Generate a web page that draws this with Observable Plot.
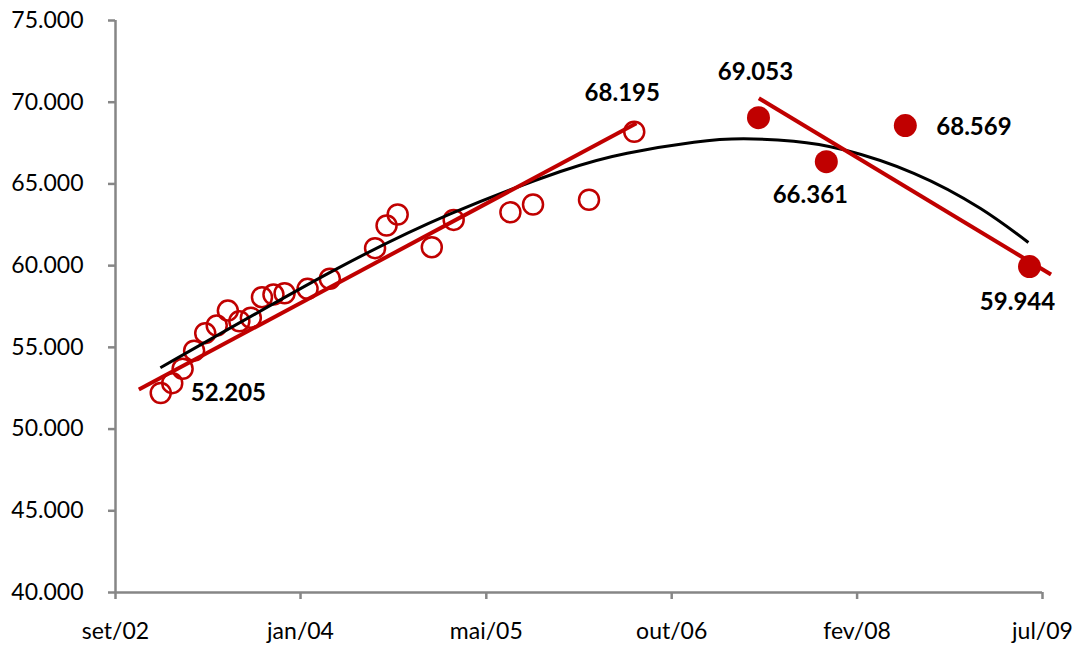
<!DOCTYPE html>
<html>
<head>
<meta charset="utf-8">
<script src="https://cdn.jsdelivr.net/npm/d3@7"></script>
<script src="https://cdn.jsdelivr.net/npm/@observablehq/plot@0.6"></script>
<style>
  html, body { margin: 0; padding: 0; background: #fff; }
  #chart { width: 1078px; height: 648px; }
</style>
</head>
<body>
<div id="chart"></div>
<script>
// ---- data ----
const openMonths = ["2003-01","2003-02","2003-03","2003-04","2003-05","2003-06","2003-07","2003-08","2003-09","2003-10","2003-11","2003-12","2004-02","2004-04","2004-08","2004-09","2004-10","2005-01","2005-03","2005-08","2005-10","2006-03","2006-07"];
const openValues = [52205,52810,53690,54800,55870,56340,57250,56600,56810,58070,58230,58310,58580,59200,61070,62460,63130,61130,62800,63270,63740,64030,68195];

const filledMonths = ["2007-06","2007-12","2008-07","2009-06"];
const filledValues = [69053,66361,68569,59944];

// red linear trend lines (end points)
const trend1Dates = ["2002-11-03","2006-07-07"];
const trend1Values = [52420,68716];
const trend2Dates = ["2007-06-02","2009-07-29"];
const trend2Values = [70246,59458];

// black polynomial trend curve
const curveDates = ["2002-12-31","2004-04-03","2005-02-20","2005-12-14","2006-06-12","2006-12-09","2007-04-22","2007-09-04","2008-01-17","2008-07-24","2009-01-20","2009-05-29"];
const curveValues = [53750,59600,63170,65760,66880,67550,67760,67615,67090,65650,63496,61416];

// labelled points
const labelMonths = ["2003-01","2006-07","2007-06","2007-12","2008-07","2009-06"];
const labelValues = [52205,68195,69053,66361,68569,59944];

// axes
const xTickDates = ["2002-09-01","2004-01-13","2005-05-28","2006-10-10","2008-02-22","2009-07-06"];
const xTickLabels = ["set/02","jan/04","mai/05","out/06","fev/08","jul/09"];
const yTicks = [40000,45000,50000,55000,60000,65000,70000,75000];

// ---- build ----
const pm = d3.utcParse("%Y-%m");
const pd = d3.utcParse("%Y-%m-%d");
const openPts = openMonths.map((m, i) => ({date: pm(m), value: openValues[i]}));
const filledPts = filledMonths.map((m, i) => ({date: pm(m), value: filledValues[i]}));
const trend1 = trend1Dates.map((d, i) => ({date: pd(d), value: trend1Values[i]}));
const trend2 = trend2Dates.map((d, i) => ({date: pd(d), value: trend2Values[i]}));
const curve = curveDates.map((d, i) => ({date: pd(d), value: curveValues[i]}));
const xTicks = xTickDates.map(pd);
const ptLocale = d3.formatLocale({decimal: ",", thousands: ".", grouping: [3], currency: ["R$", ""]});
const fmt = ptLocale.format(",d");

const RED = "#C00000";
const GREY = "#868686";

// label placement (pixels, relative to the point)
const labelPlacement = [
  {dx: 30, dy: 0, anchor: "start"},
  {dx: -12, dy: -38, anchor: "middle"},
  {dx: -3, dy: -45, anchor: "middle"},
  {dx: -16, dy: 34, anchor: "middle"},
  {dx: 31, dy: 2, anchor: "start"},
  {dx: -12, dy: 36, anchor: "middle"}
];
const labelMarks = labelMonths.map((m, i) => Plot.text([{date: pm(m), value: labelValues[i]}], {
  x: "date", y: "value",
  text: d => fmt(d.value),
  dx: labelPlacement[i].dx, dy: labelPlacement[i].dy,
  textAnchor: labelPlacement[i].anchor,
  fontWeight: "bold", fontSize: 24, fill: "#000"
}));

const chart = Plot.plot({
  width: 1078,
  height: 648,
  marginLeft: 115,
  marginRight: 36,
  marginTop: 20,
  marginBottom: 56,
  style: {fontFamily: "Lato, 'Open Sans', sans-serif", fontSize: "23px", background: "#fff", color: "#000", overflow: "visible"},
  x: {type: "utc", domain: [xTicks[0], xTicks[xTicks.length - 1]]},
  y: {domain: [40000, 75000]},
  marks: [
    Plot.axisY({ticks: yTicks, tickFormat: fmt, tickSize: 7, tickPadding: 25, stroke: GREY, strokeWidth: 2.5, fill: "#000", fontSize: 23, label: null}),
    Plot.axisX({ticks: xTicks, tickFormat: (d) => xTickLabels[xTicks.findIndex(t => +t === +d)], tickSize: 7, tickPadding: 23, stroke: GREY, strokeWidth: 2.5, fill: "#000", fontSize: 23, label: null}),
    Plot.ruleX([xTicks[0]], {stroke: GREY, strokeWidth: 2.5}),
    Plot.ruleY([40000], {stroke: GREY, strokeWidth: 2.5}),
    Plot.dot(openPts, {x: "date", y: "value", r: 10, stroke: RED, strokeWidth: 2.5, fill: "none"}),
    Plot.dot(filledPts, {x: "date", y: "value", r: 11.5, fill: RED, stroke: "none"}),
    Plot.line(curve, {x: "date", y: "value", stroke: "#000", strokeWidth: 3, curve: "natural", strokeLinecap: "butt"}),
    Plot.line(trend1, {x: "date", y: "value", stroke: RED, strokeWidth: 4, strokeLinecap: "butt"}),
    Plot.line(trend2, {x: "date", y: "value", stroke: RED, strokeWidth: 4, strokeLinecap: "butt"}),
    ...labelMarks
  ]
});
document.getElementById("chart").appendChild(chart);
</script>
</body>
</html>
